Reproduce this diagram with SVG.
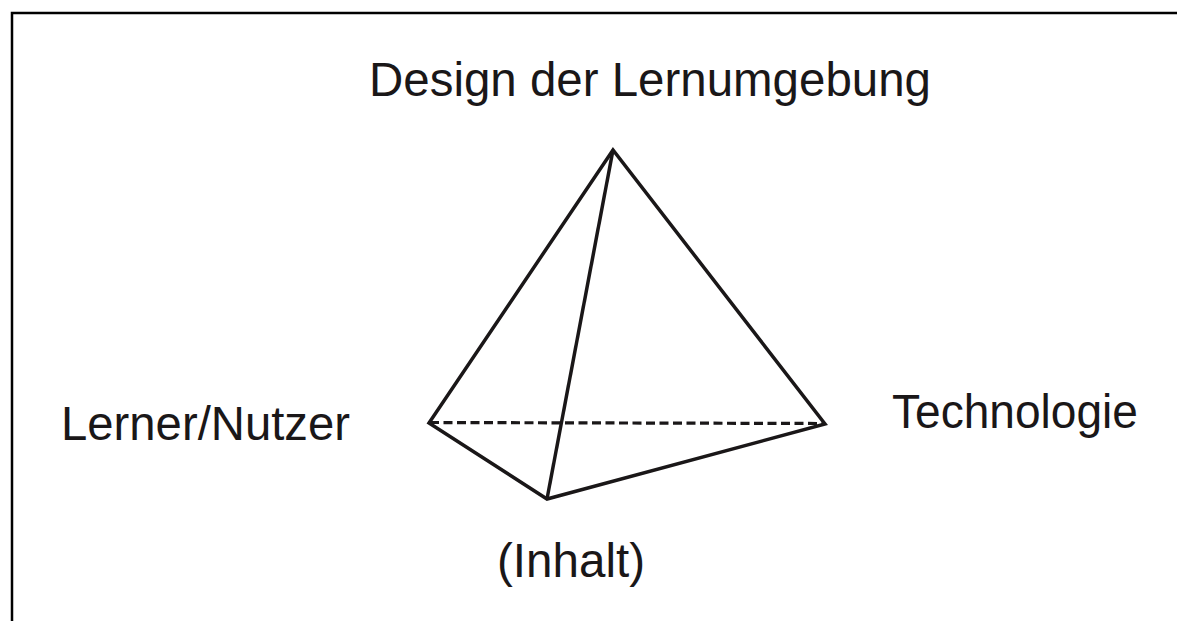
<svg xmlns="http://www.w3.org/2000/svg" width="1177" height="621" viewBox="0 0 1177 621">
  <style>
    .label { font-family: "Liberation Sans", Arial, sans-serif; font-size: 48px; fill: #1a1718; }
    .edge { stroke: #1a1718; stroke-width: 3.5; fill: none; stroke-linejoin: miter; }
    .hidden { stroke: #1a1718; stroke-width: 3.2; stroke-dasharray: 9 4.5; fill: none; }
  </style>
  <rect width="1177" height="621" fill="#ffffff"/>
  <!-- frame -->
  <path d="M12,621 V13 H1177" fill="none" stroke="#000" stroke-width="2.5"/>

  <!-- tetrahedron edges -->
  <g id="connectors">
    <line class="hidden" x1="430" y1="422.5" x2="824" y2="423.5"/>
    <path class="edge" d="M613,150 L429,423 L547,499 L825,424 Z"/>
    <line class="edge" x1="613" y1="150" x2="547" y2="499"/>
  </g>

  <g id="node-design">
    <text class="label" x="369" y="96" textLength="562" lengthAdjust="spacingAndGlyphs">Design der Lernumgebung</text>
  </g>
  <g id="node-lerner">
    <text class="label" x="61" y="440" textLength="289" lengthAdjust="spacingAndGlyphs">Lerner/Nutzer</text>
  </g>
  <g id="node-technologie">
    <text class="label" x="892" y="428" textLength="246" lengthAdjust="spacingAndGlyphs">Technologie</text>
  </g>
  <g id="node-inhalt">
    <text class="label" x="497" y="577" textLength="148" lengthAdjust="spacingAndGlyphs">(Inhalt)</text>
  </g>
</svg>
